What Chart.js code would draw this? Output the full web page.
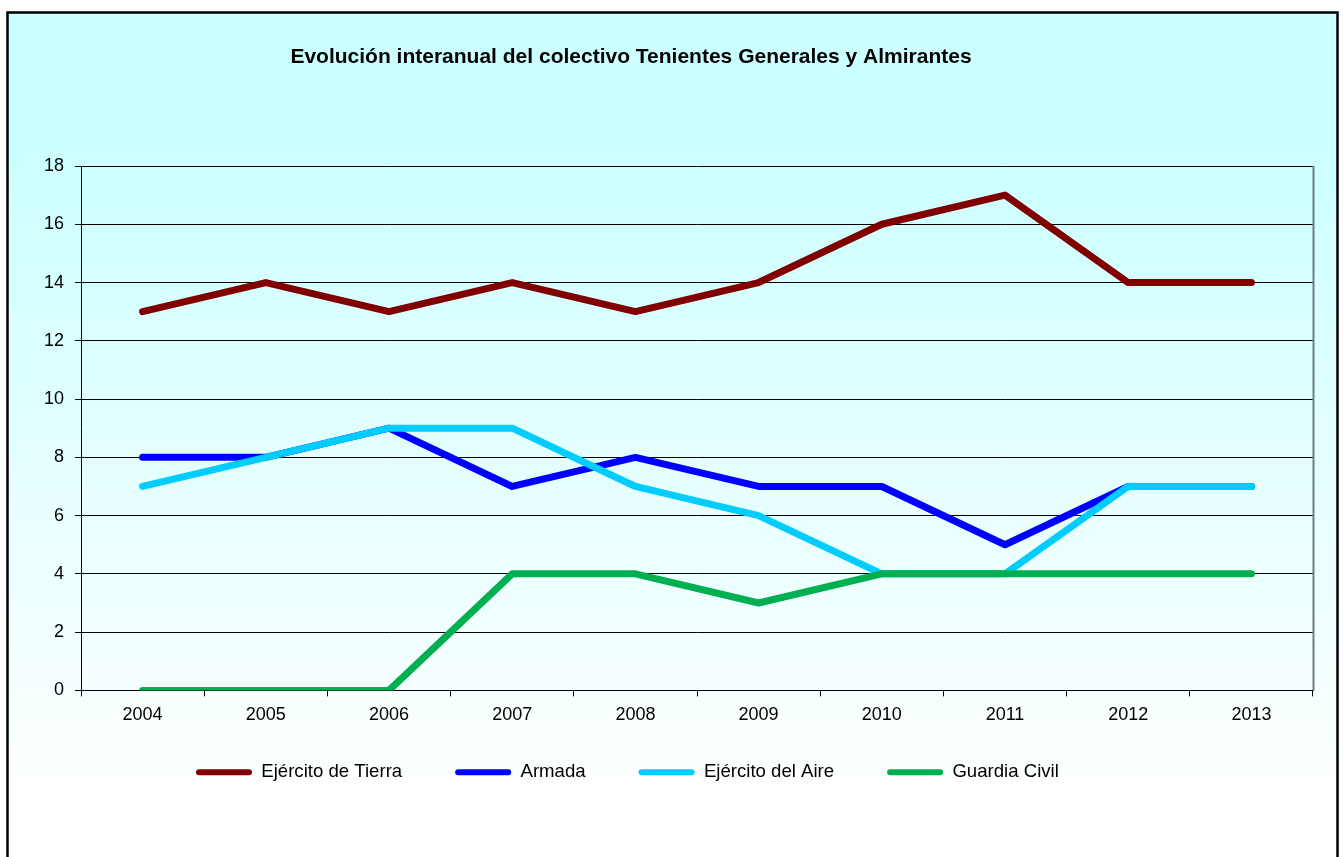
<!DOCTYPE html>
<html>
<head>
<meta charset="utf-8">
<script src="https://cdn.jsdelivr.net/npm/chart.js@4/dist/chart.umd.min.js"></script>
<style>
	html, body { margin: 0; padding: 0; background: #fff; }
	#wrap { width: 1343px; height: 857px; position: relative; }
</style>
</head>
<body>
<div id="wrap"><canvas id="chart" width="1343" height="857"></canvas></div>
<script>
// --- data ---
const years = ["2004", "2005", "2006", "2007", "2008", "2009", "2010", "2011", "2012", "2013"];
const tierra = [13, 14, 13, 14, 13, 14, 16, 17, 14, 14];
const armada = [8, 8, 9, 7, 8, 7, 7, 5, 7, 7];
const aire = [7, 8, 9, 9, 7, 6, 4, 4, 7, 7];
const guardia = [0, 0, 0, 4, 4, 3, 4, 4, 4, 4];
const seriesNames = ["Ejército de Tierra", "Armada", "Ejército del Aire", "Guardia Civil"];
const seriesColors = ["#800000", "#0000FF", "#00CCFF", "#00B050"];
const titleText = "Evolución interanual del colectivo Tenientes Generales y Almirantes";

const FONT = "'Liberation Sans', Arial, sans-serif";
const LEGEND_PAD = 53;

Chart.defaults.color = "#000";
Chart.defaults.font.family = FONT;
Chart.defaults.font.size = 18;

// background, frame, title and plot-area edge
const framePlugin = {
	id: "frame",
	beforeDraw(chart) {
		const ctx = chart.ctx;
		ctx.save();
		ctx.fillStyle = "#fff";
		ctx.fillRect(0, 0, chart.width, chart.height);
		const g = ctx.createLinearGradient(0, 150, 0, 800);
		g.addColorStop(0, "#CCFFFF");
		g.addColorStop(1, "#FFFFFF");
		ctx.fillStyle = g;
		ctx.fillRect(7, 12, 1331, 860);
		ctx.restore();
	},
	afterLayout(chart) {
		// move the legend where the reference has it
		const lg = chart.legend;
		const w = lg.right - lg.left;
		const h = lg.bottom - lg.top;
		lg.left = 196 - LEGEND_PAD;
		lg.right = lg.left + w;
		lg.top = 763 - LEGEND_PAD;
		lg.bottom = lg.top + h;
	},
	afterDraw(chart) {
		const ctx = chart.ctx;
		const a = chart.chartArea;
		ctx.save();
		ctx.strokeStyle = "#6a7f7f";
		ctx.lineWidth = 2;
		ctx.beginPath();
		ctx.moveTo(a.right + 0.5, a.top);
		ctx.lineTo(a.right + 0.5, a.bottom);
		ctx.stroke();

		ctx.strokeStyle = "#000";
		ctx.lineWidth = 2.5;
		ctx.strokeRect(7.5, 12.5, 1330, 860);

		ctx.fillStyle = "#000";
		ctx.font = "bold 21px " + FONT;
		ctx.textAlign = "center";
		ctx.textBaseline = "middle";
		ctx.fillText(titleText, 631, 57);
		ctx.restore();
	},
};

const allData = [tierra, armada, aire, guardia];

const chart = new Chart(document.getElementById("chart"), {
	type: "line",
	data: {
		labels: years,
		datasets: allData.map((d, i) => ({
			label: seriesNames[i],
			data: d,
			borderColor: seriesColors[i],
			backgroundColor: seriesColors[i],
			borderWidth: 7,
			pointRadius: 0,
			tension: 0,
			fill: false,
			borderJoinStyle: "round",
			borderCapStyle: "round",
			order: 3 - i, // later series drawn on top, like Excel
		})),
	},
	options: {
		responsive: false,
		animation: false,
		layout: { padding: { top: 166, left: 0, right: 30, bottom: 45 } },
		scales: {
			x: {
				offset: true,
				grid: {
					offset: true,
					drawOnChartArea: false,
					tickLength: 6,
					tickColor: "#000",
				},
				border: { color: "#000", width: 1 },
				ticks: { padding: 8, maxRotation: 0, font: { size: 18 } },
				afterFit(scale) { scale.height = 40; },
			},
			y: {
				min: 0,
				max: 18,
				ticks: { stepSize: 2, padding: 11, font: { size: 18 } },
				grid: { color: "#000", tickLength: 6, tickColor: "#000" },
				border: { color: "#000", width: 1 },
				afterFit(scale) { scale.width = 81; },
			},
		},
		plugins: {
			title: { display: false },
			tooltip: { enabled: false },
			legend: {
				position: "bottom",
				align: "start",
				labels: {
					boxWidth: 56,
					boxHeight: 6,
					padding: LEGEND_PAD,
					useBorderRadius: true,
					borderRadius: 3,
					font: { size: 18.6 },
					sort: (a, b) => a.datasetIndex - b.datasetIndex,
					generateLabels(c) {
						return Chart.defaults.plugins.legend.labels
							.generateLabels(c)
							.map((l) => Object.assign(l, { lineWidth: 0 }));
					},
				},
			},
		},
	},
	plugins: [framePlugin],
});
</script>
</body>
</html>
